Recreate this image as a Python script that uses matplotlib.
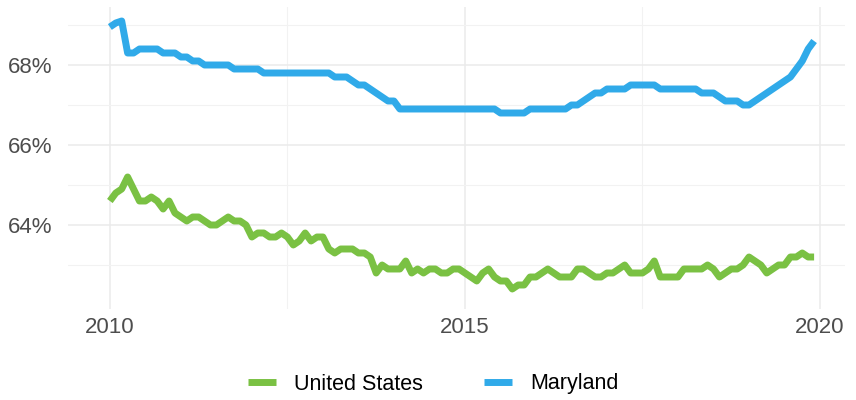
import matplotlib
matplotlib.use('agg')
import matplotlib.pyplot as plt
import numpy as np
from matplotlib.lines import Line2D
from matplotlib.ticker import FuncFormatter

plt.rcParams['font.family'] = ['Liberation Sans', 'DejaVu Sans']

# monthly values, Jan 2010 - Dec 2019
united_states = [
    64.6, 64.8, 64.9, 65.2, 64.9, 64.6, 64.6, 64.7, 64.6, 64.4, 64.6, 64.3,
    64.2, 64.1, 64.2, 64.2, 64.1, 64.0, 64.0, 64.1, 64.2, 64.1, 64.1, 64.0,
    63.7, 63.8, 63.8, 63.7, 63.7, 63.8, 63.7, 63.5, 63.6, 63.8, 63.6, 63.7,
    63.7, 63.4, 63.3, 63.4, 63.4, 63.4, 63.3, 63.3, 63.2, 62.8, 63.0, 62.9,
    62.9, 62.9, 63.1, 62.8, 62.9, 62.8, 62.9, 62.9, 62.8, 62.8, 62.9, 62.9,
    62.8, 62.7, 62.6, 62.8, 62.9, 62.7, 62.6, 62.6, 62.4, 62.5, 62.5, 62.7,
    62.7, 62.8, 62.9, 62.8, 62.7, 62.7, 62.7, 62.9, 62.9, 62.8, 62.7, 62.7,
    62.8, 62.8, 62.9, 63.0, 62.8, 62.8, 62.8, 62.9, 63.1, 62.7, 62.7, 62.7,
    62.7, 62.9, 62.9, 62.9, 62.9, 63.0, 62.9, 62.7, 62.8, 62.9, 62.9, 63.0,
    63.2, 63.1, 63.0, 62.8, 62.9, 63.0, 63.0, 63.2, 63.2, 63.3, 63.2, 63.2,
]
maryland = [
    68.95, 69.05, 69.1, 68.3, 68.3, 68.4, 68.4, 68.4, 68.4, 68.3, 68.3, 68.3,
    68.2, 68.2, 68.1, 68.1, 68.0, 68.0, 68.0, 68.0, 68.0, 67.9, 67.9, 67.9,
    67.9, 67.9, 67.8, 67.8, 67.8, 67.8, 67.8, 67.8, 67.8, 67.8, 67.8, 67.8,
    67.8, 67.8, 67.7, 67.7, 67.7, 67.6, 67.5, 67.5, 67.4, 67.3, 67.2, 67.1,
    67.1, 66.9, 66.9, 66.9, 66.9, 66.9, 66.9, 66.9, 66.9, 66.9, 66.9, 66.9,
    66.9, 66.9, 66.9, 66.9, 66.9, 66.9, 66.8, 66.8, 66.8, 66.8, 66.8, 66.9,
    66.9, 66.9, 66.9, 66.9, 66.9, 66.9, 67.0, 67.0, 67.1, 67.2, 67.3, 67.3,
    67.4, 67.4, 67.4, 67.4, 67.5, 67.5, 67.5, 67.5, 67.5, 67.4, 67.4, 67.4,
    67.4, 67.4, 67.4, 67.4, 67.3, 67.3, 67.3, 67.2, 67.1, 67.1, 67.1, 67.0,
    67.0, 67.1, 67.2, 67.3, 67.4, 67.5, 67.6, 67.7, 67.9, 68.1, 68.4, 68.6,
]
years = 2010 + np.arange(len(maryland)) / 12.0
year_ticks = [2010, 2015, 2020]
pct_ticks = [64, 66, 68]

green = '#7ac143'
blue = '#30aae9'

fig = plt.figure(figsize=(8.56, 4.0), dpi=100)
ax = fig.add_axes([0.0794, 0.2275, 0.9076, 0.755])

ax.plot(years, united_states, color=green, linewidth=5,
        solid_capstyle='butt', solid_joinstyle='round')
ax.plot(years, maryland, color=blue, linewidth=5,
        solid_capstyle='butt', solid_joinstyle='round')

ax.set_xlim(2009.41, 2020.35)
ax.set_ylim(61.9, 69.45)
ax.set_xticks(year_ticks)
ax.set_xticks([2012.5, 2017.5], minor=True)
ax.set_yticks(pct_ticks)
ax.set_yticks([63, 65, 67, 69], minor=True)
ax.yaxis.set_major_formatter(FuncFormatter(lambda v, p: '%d%%' % v))

ax.grid(True, which='major', color='#ebebeb', linewidth=1.1)
ax.grid(True, which='minor', color='#f2f2f2', linewidth=0.8)
ax.set_axisbelow(True)
for s in ax.spines.values():
    s.set_visible(False)
ax.tick_params(which='both', length=0)
ax.tick_params(axis='x', labelsize=16, labelcolor='#4d4d4d', pad=6)
ax.tick_params(axis='y', labelsize=16, labelcolor='#4d4d4d', pad=11)

handles = [Line2D([], [], color=green, linewidth=5, solid_capstyle='butt'),
           Line2D([], [], color=blue, linewidth=5, solid_capstyle='butt')]
fig.legend(handles, ['United States', 'Maryland'], loc='center',
           bbox_to_anchor=(0.506, 0.04), ncol=2, frameon=False,
           fontsize=15.5, handlelength=1.3, handletextpad=0.85,
           columnspacing=2.8)

fig.savefig('out.png', dpi=100)
